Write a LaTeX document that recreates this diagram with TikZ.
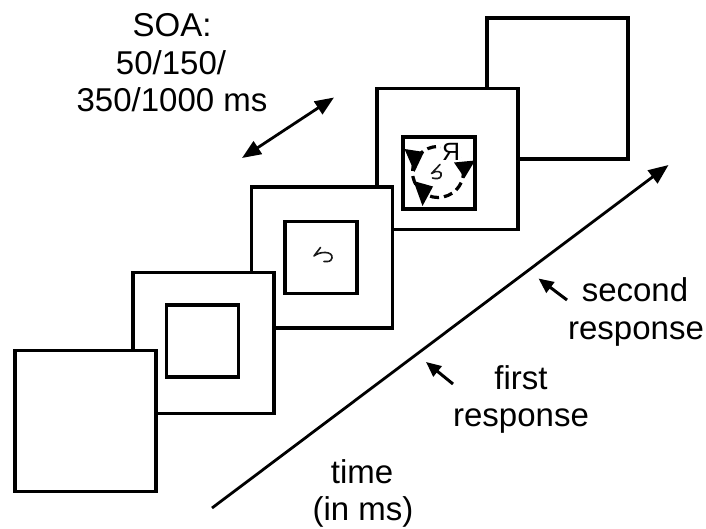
\documentclass[tikz,border=0pt]{standalone}
\usepackage{fontspec}
\setmainfont{Liberation Sans}
\usepackage{graphicx}
\usetikzlibrary{arrows.meta}

\tikzset{
  frame/.style={draw, line width=3.4pt, fill=white, minimum size=141pt, inner sep=0pt, outer sep=0pt},
  inner frame/.style={draw, line width=3.4pt, fill=white, minimum size=72pt, inner sep=0pt, outer sep=0pt},
  label text/.style={font=\fontsize{33}{37.5}\selectfont, anchor=base, inner sep=0pt},
  big arrow/.style={line width=2.8pt, -{Triangle[length=20pt,width=16pt]}},
  both arrow/.style={line width=2.8pt, {Triangle[length=19pt,width=15pt]}-{Triangle[length=19pt,width=15pt]}},
  small arrow/.style={line width=3pt, -{Triangle[length=15pt,width=13pt]}},
  glyph/.style={line width=1.6pt, line cap=round, line join=round, black!90},
  cue head/.style={fill=black}
}

\begin{document}
\begin{tikzpicture}[x=1pt, y=-1pt]
  \useasboundingbox[fill=white] (0,0) rectangle (706,529);

  % display frames, back to front
  \node[frame] (f5) at (557.5,88.5) {};
  \node[frame] (f4) at (447.5,159) {};
  \node[frame] (f3) at (322,257.5) {};
  \node[frame] (f2) at (203.5,343) {};
  \node[frame] (f1) at (85.5,421) {};

  % inner boxes
  \node[inner frame] (b2) at (202.5,341) {};
  \node[inner frame] (b3) at (321,257.5) {};
  \node[inner frame] (b4) at (439,173) {};

  % target symbol in frame 3
  \draw[glyph] (320.5,247.5) -- (314,256)
    .. controls (320,251) and (333,251) .. (332,258)
    .. controls (331,262) and (327,262) .. (324,261.5);

  % rotating cue in frame 4
  \node[circle, draw, line width=3.2pt, dash pattern=on 9pt off 5pt,
        minimum size=51pt, inner sep=0pt] (cue) at (438,172) {};
  \node[font=\fontsize{25}{25}\selectfont, fill=white, inner sep=0.5pt] (mirR) at (451,152) {\reflectbox{R}};
  \fill[cue head] (404.5,149) -- (424,152) -- (414.5,172) -- cycle;
  \fill[cue head] (454,162.5) -- (475,160.5) -- (464.5,178) -- cycle;
  \fill[cue head] (413.5,181) -- (433,186.5) -- (422.5,206) -- cycle;
  \draw[glyph] (440,164.5) -- (431.5,173.5)
    .. controls (436,170) and (443,171) .. (441,176)
    .. controls (440,179) and (436,179) .. (432.5,178);

  % SOA label and double arrow
  \node[label text] (soa1) at (172,36.7) {SOA:};
  \node[label text] (soa2) at (171,74.5) {50/150/};
  \node[label text] (soa3) at (172,111.8) {350/1000 ms};
  \coordinate (soaL) at (242,158);
  \coordinate (soaR) at (334,97.5);
  \draw[both arrow] (soaL) -- (soaR);

  % time axis
  \coordinate (t0) at (212,508);
  \coordinate (t1) at (668.5,165);
  \draw[big arrow] (t0) -- (t1);
  \node[label text] (time1) at (362,483) {time};
  \node[label text] (time2) at (363,520) {(in ms)};

  % responses
  \coordinate (r1tail) at (453,384);
  \coordinate (r1tip) at (426,362);
  \draw[small arrow] (r1tail) -- (r1tip);
  \node[label text] (first1) at (521,389) {first};
  \node[label text] (first2) at (521,426) {response};

  \coordinate (r2tail) at (567,300);
  \coordinate (r2tip) at (538.5,278.5);
  \draw[small arrow] (r2tail) -- (r2tip);
  \node[label text] (second1) at (635,301) {second};
  \node[label text] (second2) at (636,339) {response};
\end{tikzpicture}
\end{document}
